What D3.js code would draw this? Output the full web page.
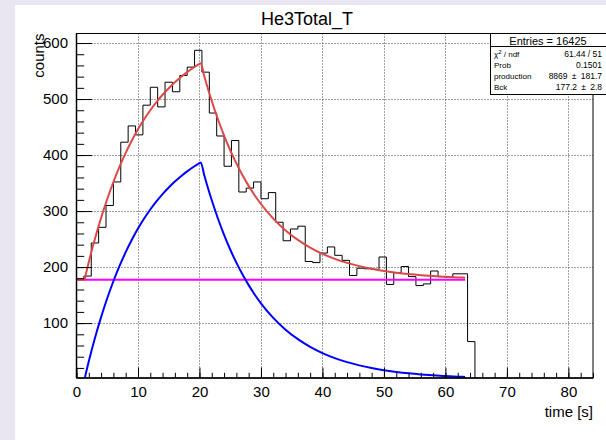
<!DOCTYPE html>
<html lang="en">
<head>
<meta charset="utf-8">
<title>He3Total_T</title>
<script src="https://cdn.jsdelivr.net/npm/d3@7/dist/d3.min.js"></script>
<style>
    body { margin: 0; background: #e9e5f1; }
    svg { display: block; }
    text { font-family: "Liberation Sans", Arial, Helvetica, sans-serif; }
</style>
</head>
<body>
<script>
// histogram: 1.2 s bins starting at t = 0 (empty after the last one)
var binWidth = 1.2;
var counts = [179, 184, 243, 271, 310, 352, 423, 452, 436, 489,
              521, 486, 530, 513, 542, 557, 587, 548, 475, 434,
              380, 426, 334, 341, 352, 322, 333, 280, 247, 268,
              273, 210, 208, 225, 236, 221, 212, 185, 198, 197,
              196, 218, 169, 190, 201, 183, 167, 170, 193, 183,
              182, 188, 188, 67];

// fit curves
var fitTime  = [0, 0.9, 1.3, 1.5, 2, 3, 4, 5, 6, 7, 8, 9, 10, 11, 12, 13, 14, 15, 16, 17, 18, 19, 20, 20.2,
                20.8, 21.5, 22, 23, 24, 25, 26, 27, 28, 29, 30, 32, 34, 36, 38, 40, 42, 44, 46, 48,
                50, 52, 54, 56, 58, 60, 62, 63.2];
var fitProd  = [0, 0, 0, 9, 31.8, 73.3, 110.7, 144.4, 174.7, 202.0, 226.6, 248.7, 268.7, 286.6, 302.8,
                317.3, 330.4, 342.1, 352.7, 362.3, 370.9, 378.7, 385.6, 386.9,
                362.9, 336.6, 319.2, 286.7, 257.6, 231.4, 207.9, 186.8, 167.8, 150.7, 135.4, 109.3,
                88.2, 71.3, 57.6, 46.5, 37.5, 30.3, 24.5, 19.8, 15.9, 12.9, 10.4, 8.4, 6.8, 5.5, 4.4, 3.9];
var fitTotal = [177.2, 177.2, 177.2, 186.2, 209.0, 250.5, 287.9, 321.6, 351.9, 379.2, 403.8, 425.9,
                445.9, 463.8, 480.0, 494.5, 507.6, 519.3, 529.9, 539.5, 548.1, 555.9, 562.8, 564.1,
                540.1, 513.8, 496.4, 463.9, 434.8, 408.6, 385.1, 364.0, 345.0, 327.9, 312.6, 286.5,
                265.4, 248.5, 234.8, 223.7, 214.7, 207.5, 201.7, 197.0, 193.1, 190.1, 187.6, 185.6,
                184.0, 182.7, 181.6, 181.1];
var bckLevel = 177.2;
var bckRange = [0, 63.2];

// axes
var xTicks = [0, 10, 20, 30, 40, 50, 60, 70, 80];
var yTicks = [100, 200, 300, 400, 500, 600];

// stats box
var statsHeader = "Entries = 16425";
var statsLabels = ["ndf", "Prob", "production", "Bck"];
var statsValues = ["61.44 / 51", "0.1501", "8869\u2002\u00b1\u2002181.7", "177.2\u2002\u00b1\u20022.8"];

var w = 606, h = 440;
var fLeft = 76.5, fRight = 593, fTop = 33.5, fBottom = 378;

var svg = d3.select("body").append("svg")
    .attr("width", w)
    .attr("height", h);

// canvas: lavender border, white pad
svg.append("rect").attr("width", w).attr("height", h).attr("fill", "#e9e5f1");
svg.append("rect").attr("x", 15).attr("y", 5)
   .attr("width", w - 15).attr("height", h - 5).attr("fill", "white");

var x = d3.scaleLinear().domain([0, 84]).range([fLeft, fRight]);
var y = d3.scaleLinear().domain([2, 617]).range([fBottom, fTop]);

svg.append("clipPath").attr("id", "frameclip")
   .append("rect")
   .attr("x", fLeft).attr("y", fTop)
   .attr("width", fRight - fLeft).attr("height", fBottom - fTop);

// dotted grid
var grid = svg.append("g")
    .attr("stroke", "#444")
    .attr("stroke-width", 1)
    .attr("stroke-dasharray", "1,2");
grid.selectAll("line.gx")
    .data(xTicks.filter(function(d) { return d > 0; }))
    .enter().append("line")
    .attr("x1", function(d) { return Math.round(x(d)) + 0.5; })
    .attr("x2", function(d) { return Math.round(x(d)) + 0.5; })
    .attr("y1", fTop).attr("y2", fBottom);
grid.selectAll("line.gy")
    .data(yTicks)
    .enter().append("line")
    .attr("y1", function(d) { return Math.round(y(d)) + 0.5; })
    .attr("y2", function(d) { return Math.round(y(d)) + 0.5; })
    .attr("x1", fLeft).attr("x2", fRight);

var plot = svg.append("g").attr("clip-path", "url(#frameclip)");

// histogram outline as steps
var steps = [[0, 0]];
counts.forEach(function(c, i) {
    steps.push([i * binWidth, c]);
    steps.push([(i + 1) * binWidth, c]);
});
steps.push([counts.length * binWidth, 0]);
steps.push([84, 0]);

var line = d3.line()
    .x(function(d) { return x(d[0]); })
    .y(function(d) { return y(d[1]); });

plot.append("path")
    .attr("d", line(steps))
    .attr("fill", "none")
    .attr("stroke", "black")
    .attr("stroke-width", 1);

var smooth = d3.line()
    .x(function(d) { return x(d[0]); })
    .y(function(d) { return y(d[1]); })
    .curve(d3.curveMonotoneX);

// background constant
plot.append("path")
    .attr("d", line([[bckRange[0], bckLevel], [bckRange[1], bckLevel]]))
    .attr("fill", "none")
    .attr("stroke", "#ff00ff")
    .attr("stroke-width", 2);

// production component
plot.append("path")
    .attr("d", smooth(fitTime.map(function(t, i) { return [t, fitProd[i]]; })))
    .attr("fill", "none")
    .attr("stroke", "#0000ff")
    .attr("stroke-width", 2);

// total fit
plot.append("path")
    .attr("d", smooth(fitTime.map(function(t, i) { return [t, fitTotal[i]]; })))
    .attr("fill", "none")
    .attr("stroke", "#dc4848")
    .attr("stroke-width", 2);

// frame
svg.append("rect")
    .attr("x", fLeft).attr("y", fTop)
    .attr("width", fRight - fLeft).attr("height", fBottom - fTop)
    .attr("fill", "none")
    .attr("stroke", "black")
    .attr("stroke-width", 1);

// x axis: minor then major ticks, pointing inward
var xMinor = d3.range(0, 85, 2);
svg.append("g")
    .attr("transform", "translate(0," + fBottom + ")")
    .call(d3.axisBottom(x).tickValues(xMinor).tickSizeInner(-5.2).tickSizeOuter(0).tickFormat(""))
    .call(function(g) { g.select(".domain").remove(); });
var xAxis = svg.append("g")
    .attr("transform", "translate(0," + fBottom + ")")
    .call(d3.axisBottom(x).tickValues(xTicks).tickSizeInner(-10.4).tickSizeOuter(0).tickPadding(8))
    .call(function(g) { g.select(".domain").remove(); });
xAxis.selectAll("text").attr("font-size", "15px").attr("font-family", null).attr("fill", "black");

var yMinor = d3.range(20, 617, 20);
svg.append("g")
    .attr("transform", "translate(" + fLeft + ",0)")
    .call(d3.axisLeft(y).tickValues(yMinor).tickSizeInner(-7.7).tickSizeOuter(0).tickFormat(""))
    .call(function(g) { g.select(".domain").remove(); });
var yAxis = svg.append("g")
    .attr("transform", "translate(" + fLeft + ",0)")
    .call(d3.axisLeft(y).tickValues(yTicks).tickSizeInner(-15.5).tickSizeOuter(0).tickPadding(8.5))
    .call(function(g) { g.select(".domain").remove(); });
yAxis.selectAll("text").attr("font-size", "15px").attr("font-family", null).attr("fill", "black");

svg.selectAll(".tick line").attr("stroke", "black");

// axis lines a bit heavier like ROOT
svg.append("line").attr("x1", fLeft).attr("x2", fRight).attr("y1", fBottom).attr("y2", fBottom)
   .attr("stroke", "black").attr("stroke-width", 1.5);
svg.append("line").attr("x1", fLeft).attr("x2", fLeft).attr("y1", fTop).attr("y2", fBottom)
   .attr("stroke", "black").attr("stroke-width", 1.5);

// axis titles
svg.append("text")
    .attr("x", fRight).attr("y", 417)
    .attr("text-anchor", "end")
    .attr("font-size", "15px")
    .text("time [s]");
svg.append("text")
    .attr("transform", "translate(43.5," + fTop + ") rotate(-90)")
    .attr("text-anchor", "end")
    .attr("font-size", "15px")
    .text("counts");

// title
svg.append("text")
    .attr("x", 307).attr("y", 25)
    .attr("text-anchor", "middle")
    .attr("font-size", "18px")
    .text("He3Total_T");

// stats box
var bx = 490.5, by = 33.5, bw = 120, bh = 61;
var stats = svg.append("g");
stats.append("rect")
    .attr("x", bx).attr("y", by).attr("width", bw).attr("height", bh)
    .attr("fill", "white").attr("stroke", "black").attr("stroke-width", 1);
stats.append("line")
    .attr("x1", bx).attr("x2", w).attr("y1", 46.5).attr("y2", 46.5)
    .attr("stroke", "black").attr("stroke-width", 1);
stats.append("text")
    .attr("x", 548).attr("y", 44.5)
    .attr("text-anchor", "middle")
    .attr("font-size", "11px")
    .text(statsHeader);

var rowY = [56.5, 67.5, 78.5, 90];
var lab = stats.selectAll("text.lab")
    .data(statsLabels)
    .enter().append("text")
    .attr("class", "lab")
    .attr("x", 494)
    .attr("y", function(d, i) { return rowY[i]; })
    .attr("font-size", "8px");
lab.each(function(d, i) {
    var t = d3.select(this);
    if (i === 0) {
        t.append("tspan").text("\u03c7");
        t.append("tspan").attr("font-size", "6px").attr("dy", -3).text("2");
        t.append("tspan").attr("dy", 3).text(" / " + d);
    } else {
        t.text(d);
    }
});
stats.selectAll("text.val")
    .data(statsValues)
    .enter().append("text")
    .attr("class", "val")
    .attr("x", 602)
    .attr("y", function(d, i) { return rowY[i]; })
    .attr("text-anchor", "end")
    .attr("font-size", "8.5px")
    .text(function(d) { return d; });
</script>
</body>
</html>
